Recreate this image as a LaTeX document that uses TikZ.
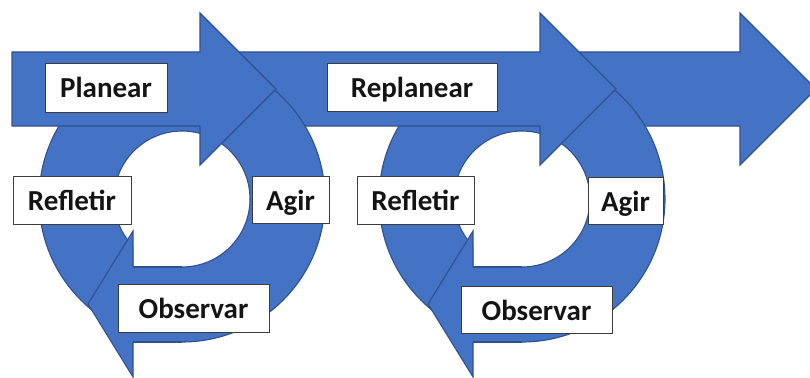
\documentclass[tikz,border=0pt]{standalone}
\usepackage{fontspec}
\setmainfont{Carlito}
\definecolor{pptblue}{HTML}{4472C4}
\definecolor{pptedge}{HTML}{2F528F}
\definecolor{boxedge}{HTML}{3C3C3C}
\definecolor{txt}{HTML}{141414}
\tikzset{
  bandshape/.style={fill=pptblue, draw=pptedge, line width=1.1pt, line join=miter},
  edgeline/.style={draw=pptedge, line width=1.1pt},
  label box/.style={draw=boxedge, line width=0.8pt, fill=white, inner sep=0pt,
    font=\bfseries\fontsize{29}{34}\selectfont, text=txt,
    text height=26pt, text depth=5pt},
}
\newcommand{\cyclering}{%
  \path[bandshape, even odd rule] (182,199) circle[radius=143] (182,199) circle[radius=68];
  \fill[pptblue] (133,267) rectangle (182,342);
  \fill[white] (133.4,240) -- (133.4,267) -- (182,267) -- (182,260) -- cycle;
  \draw[edgeline] (133,267) -- (182,267);
  \draw[edgeline] (133,342) -- (182,342);
  \fill[pptblue] (133,231) -- (88,304) -- (133,377) -- cycle;
  \draw[edgeline] (133,267) -- (133,231) -- (88,304) -- (133,377) -- (133,342);
}
\begin{document}
\begin{tikzpicture}[x=1pt,y=-1pt]
\useasboundingbox (0,0) rectangle (810,377);
\clip (0,0) rectangle (810,377);
% third straight arrow
\path[bandshape] (560,52) -- (740,52) -- (740,13) -- (816,89) -- (740,165) -- (740,126) -- (560,126) -- cycle;
% second cycle ring
\begin{scope}[xshift=340pt]
  \cyclering
\end{scope}
% second straight arrow
\path[bandshape] (220,52) -- (540,52) -- (540,13) -- (616,89) -- (540,165) -- (540,126) -- (220,126) -- cycle;
% first cycle ring
\cyclering
% first straight arrow
\path[bandshape] (12,52) -- (200,52) -- (200,13) -- (276,89) -- (200,165) -- (200,126) -- (12,126) -- cycle;
% labels
\node[label box, minimum width=122pt, minimum height=49pt] (planear) at (106,87.5) {Planear};
\node[label box, minimum width=170pt, minimum height=48pt] (replanear) at (412,87.5) {Replanear};
\node[label box, minimum width=118pt, minimum height=48pt] (refletirA) at (72,200) {Refletir};
\node[label box, minimum width=77pt, minimum height=47pt] (agirA) at (290.5,199.5) {Agir};
\node[label box, minimum width=117pt, minimum height=48pt] (refletirB) at (415.5,200) {Refletir};
\node[label box, minimum width=75pt, minimum height=47pt] (agirB) at (625.5,200.5) {Agir};
\node[label box, minimum width=151pt, minimum height=48pt] (observarA) at (193.5,308) {Observar};
\node[label box, minimum width=151pt, minimum height=47pt] (observarB) at (536.5,309.5) {Observar};
\end{tikzpicture}
\end{document}
